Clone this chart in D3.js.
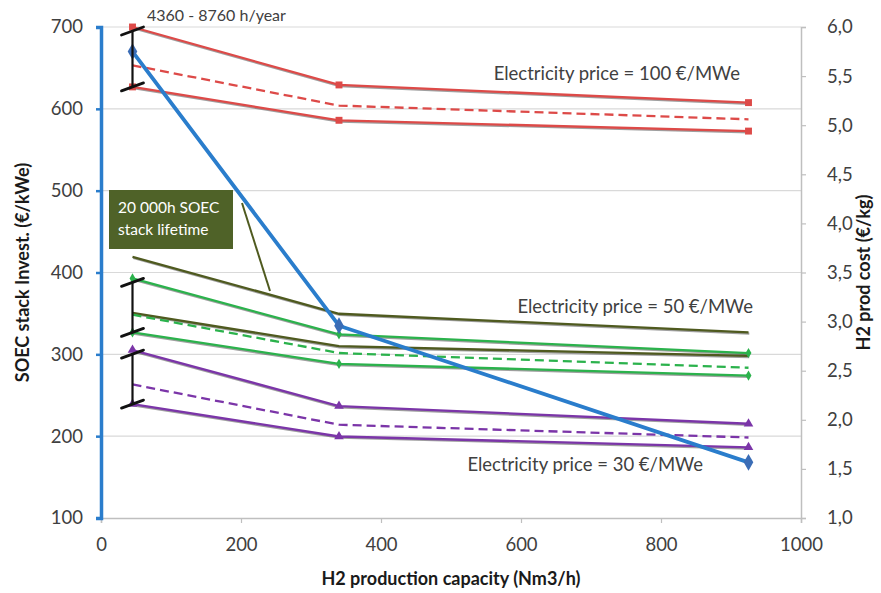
<!DOCTYPE html>
<html>
<head>
<meta charset="utf-8">
<script src="https://cdn.jsdelivr.net/npm/d3@7"></script>
<style>
  html, body { margin: 0; padding: 0; background: #fff; }
  svg { display: block; font-family: Lato, "Open Sans", sans-serif; }
</style>
</head>
<body>
<svg id="chart" width="881" height="593"></svg>
<script>
// H2 production capacity (Nm3/h) of the three plant sizes
const capacity = [45, 340, 925];

// SOEC stack investment (€/kWe), left axis
const stackInvest = [670, 335, 168];

// H2 production cost (€/kg), right axis — high / mid / low operating hours
const price100High = [6.00, 5.41, 5.23];
const price100Mid  = [5.61, 5.20, 5.06];
const price100Low  = [5.39, 5.05, 4.94];

const price50High = [3.44, 2.87, 2.68];
const price50Mid  = [3.07, 2.68, 2.53];
const price50Low  = [2.89, 2.57, 2.45];

// 50 €/MWe with a 20 000 h stack lifetime
const life20kHigh = [3.66, 3.08, 2.89];
const life20kLow  = [3.09, 2.75, 2.65];

const price30High = [2.71, 2.14, 1.96];
const price30Mid  = [2.36, 1.95, 1.82];
const price30Low  = [2.16, 1.83, 1.72];

const xTicks = [0, 200, 400, 600, 800, 1000];
const leftTicks = [100, 200, 300, 400, 500, 600, 700];
const rightTicks = [1.0, 1.5, 2.0, 2.5, 3.0, 3.5, 4.0, 4.5, 5.0, 5.5, 6.0];

const svg = d3.select("#chart");
const W = 881, H = 593;
const plot = { left: 101, right: 801, top: 27, bottom: 518 };

const x = d3.scaleLinear().domain([0, 1000]).range([plot.left, plot.right]);
const yL = d3.scaleLinear().domain([100, 700]).range([plot.bottom, plot.top]);
const yR = d3.scaleLinear().domain([1, 6]).range([plot.bottom, plot.top]);

const textColor = "#404040";
const gridColor = "#d9d9d9";
const axisGray = "#bfbfbf";
const blue = "#2a7dcc";
const red = "#dd4a48";
const green = "#2bb24c";
const olive = "#4f5a1f";
const purple = "#7b35a8";

svg.append("rect").attr("width", W).attr("height", H).attr("fill", "#fff");

// horizontal gridlines on the left-axis ticks
svg.append("g").selectAll("line").data(leftTicks.filter(d => d > 100)).join("line")
  .attr("x1", plot.left).attr("x2", plot.right)
  .attr("y1", d => yL(d)).attr("y2", d => yL(d))
  .attr("stroke", gridColor).attr("stroke-width", 1.2);

// x axis
const xAxis = svg.append("g").attr("transform", `translate(0,${plot.bottom})`)
  .call(d3.axisBottom(x).tickValues(xTicks).tickSize(5).tickPadding(15).tickFormat(d3.format("d")));
xAxis.select(".domain").attr("stroke", axisGray).attr("stroke-width", 1.5);
xAxis.selectAll(".tick line").attr("stroke", axisGray).attr("stroke-width", 1.2);
xAxis.selectAll(".tick text").attr("fill", textColor).attr("font-size", 18.5).attr("font-family", "Lato");

// right axis (H2 cost)
const rAxis = svg.append("g").attr("transform", `translate(${plot.right},0)`)
  .call(d3.axisRight(yR).tickValues(rightTicks).tickSize(5).tickPadding(21)
    .tickFormat(d => d3.format(".1f")(d).replace(".", ",")));
rAxis.select(".domain").attr("stroke", axisGray).attr("stroke-width", 1.5);
rAxis.selectAll(".tick line").attr("stroke", axisGray).attr("stroke-width", 1.2);
rAxis.selectAll(".tick text").attr("fill", textColor).attr("font-size", 18.5).attr("font-family", "Lato");

// left axis (stack investment), drawn in the series blue
const lAxis = svg.append("g").attr("transform", `translate(${plot.left},0)`)
  .call(d3.axisLeft(yL).tickValues(leftTicks).tickSize(5).tickPadding(13).tickFormat(d3.format("d")));
lAxis.select(".domain").attr("stroke", blue).attr("stroke-width", 3.5);
lAxis.selectAll(".tick line").attr("stroke", blue).attr("stroke-width", 2.5);
lAxis.selectAll(".tick text").attr("fill", textColor).attr("font-size", 18.5).attr("font-family", "Lato");

// axis titles
svg.append("text").attr("x", (plot.left + plot.right) / 2).attr("y", 585)
  .attr("text-anchor", "middle").attr("font-size", 18).attr("font-weight", "bold").attr("fill", "#1a1a1a")
  .text("H2 production capacity (Nm3/h)");
svg.append("text").attr("transform", `translate(29,${(plot.top + plot.bottom) / 2}) rotate(-90)`)
  .attr("text-anchor", "middle").attr("font-size", 18).attr("font-weight", "bold").attr("fill", "#1a1a1a")
  .text("SOEC stack Invest. (€/kWe)");
svg.append("text").attr("transform", `translate(870,${(plot.top + plot.bottom) / 2}) rotate(-90)`)
  .attr("text-anchor", "middle").attr("font-size", 18).attr("font-weight", "bold").attr("fill", "#1a1a1a")
  .text("H2 prod cost (€/kg)");

const costLine = d3.line().x((d, i) => x(capacity[i])).y(d => yR(d));
const investLine = d3.line().x((d, i) => x(capacity[i])).y(d => yL(d));

const series = [
  { v: life20kHigh, color: olive, dash: null, marker: null },
  { v: life20kLow, color: olive, dash: null, marker: null },
  { v: price100High, color: red, dash: null, marker: "square" },
  { v: price100Mid, color: red, dash: "9,5", marker: null },
  { v: price100Low, color: red, dash: null, marker: "square" },
  { v: price50High, color: green, dash: null, marker: "diamond" },
  { v: price50Mid, color: green, dash: "9,5", marker: null },
  { v: price50Low, color: green, dash: null, marker: "diamond" },
  { v: price30High, color: purple, dash: null, marker: "triangle" },
  { v: price30Mid, color: purple, dash: "9,5", marker: null },
  { v: price30Low, color: purple, dash: null, marker: "triangle" }
];

const lines = svg.append("g").attr("fill", "none");
series.forEach(s => {
  if (!s.dash) {
    // soft drop shadow under solid lines
    lines.append("path").attr("d", costLine(s.v))
      .attr("transform", "translate(0.8,1.2)")
      .attr("stroke", "#2a2a2a").attr("stroke-opacity", 0.45).attr("stroke-width", 2.3);
  }
  lines.append("path").attr("d", costLine(s.v))
    .attr("stroke", s.color).attr("stroke-width", 2.3)
    .attr("stroke-dasharray", s.dash);
});

const symbolType = { square: d3.symbolSquare, diamond: d3.symbolDiamond, triangle: d3.symbolTriangle };
const symbolSize = { square: 48, diamond: 30, triangle: 40 };
series.filter(s => s.marker).forEach(s => {
  svg.append("g").selectAll("path").data(s.v).join("path")
    .attr("transform", (d, i) => `translate(${x(capacity[i])},${yR(d)})`)
    .attr("d", d3.symbol(symbolType[s.marker], symbolSize[s.marker]))
    .attr("fill", s.color);
});

// SOEC stack investment curve
svg.append("path").attr("d", investLine(stackInvest))
  .attr("fill", "none").attr("stroke", blue).attr("stroke-width", 3.8);
svg.append("g").selectAll("path").data(stackInvest).join("path")
  .attr("transform", (d, i) => `translate(${x(capacity[i])},${yL(d)})`)
  .attr("d", d3.symbol(d3.symbolDiamond, 80))
  .attr("fill", "#3b6db6");

// operating-hour range brackets at the smallest plant
const ranges = [
  [price100High[0], price100Low[0]],
  [price50High[0], price50Low[0]],
  [price30High[0], price30Low[0]]
];
const bx = x(capacity[0]);
const br = svg.append("g").attr("stroke", "#111").attr("fill", "none").attr("stroke-linecap", "round");
ranges.forEach(([hi, lo]) => {
  const y1 = yR(hi) + 4, y2 = yR(lo);
  br.append("line").attr("x1", bx).attr("x2", bx).attr("y1", y1).attr("y2", y2).attr("stroke-width", 2.2);
  [y1, y2].forEach(yy => {
    br.append("line").attr("x1", bx - 11).attr("y1", yy + 4).attr("x2", bx + 11).attr("y2", yy - 4)
      .attr("stroke-width", 2.8);
  });
});

svg.append("text").attr("x", 147).attr("y", 21).attr("font-size", 16).attr("fill", textColor)
  .text("4360 - 8760 h/year");

// stack-lifetime callout
svg.append("line").attr("x1", 242).attr("y1", 203).attr("x2", 270).attr("y2", 291)
  .attr("stroke", olive).attr("stroke-width", 2);
svg.append("rect").attr("x", 109).attr("y", 190).attr("width", 124).attr("height", 59)
  .attr("fill", "#4f6228");
svg.append("text").attr("x", 118).attr("y", 213).attr("font-size", 15.5).attr("fill", "#fff")
  .text("20 000h SOEC");
svg.append("text").attr("x", 118).attr("y", 235).attr("font-size", 15.5).attr("fill", "#fff")
  .text("stack lifetime");

// electricity price labels
const priceLabels = [
  { t: "Electricity price = 100 €/MWe", x: 740, y: 80 },
  { t: "Electricity price = 50 €/MWe", x: 753, y: 313 },
  { t: "Electricity price = 30 €/MWe", x: 703, y: 471 }
];
svg.append("g").selectAll("text").data(priceLabels).join("text")
  .attr("x", d => d.x).attr("y", d => d.y).attr("text-anchor", "end")
  .attr("font-size", 18.5).attr("fill", textColor).text(d => d.t);
</script>
</body>
</html>
